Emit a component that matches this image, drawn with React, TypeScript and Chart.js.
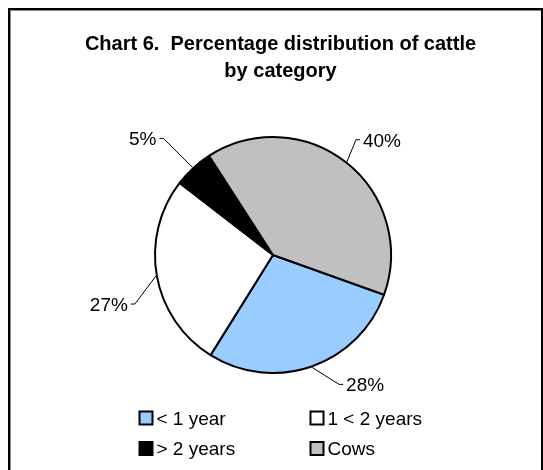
import { useEffect, useRef } from "react";
import { Chart, registerables } from "chart.js";

Chart.register(...registerables);

const categories = ["< 1 year", "1 < 2 years", "> 2 years", "Cows"];
const shares = [28.4, 26.6, 5.4, 39.6];
const percentLabels = ["28%", "27%", "5%", "40%"];
const sliceColors = ["#99CCFF", "#FFFFFF", "#000000", "#C0C0C0"];
const titleLines = ["Chart 6.  Percentage distribution of cattle", "by category"];

// leader-line direction (dx, dy) from slice edge to label elbow
const leaderOffsets = [
  [27, 17],
  [-21, 28],
  [-29, -29],
  [9, -22],
];

const FONT = "'Liberation Sans', Arial, Helvetica, sans-serif";

const labelPlugin = {
  id: "pieLabels",
  afterDatasetsDraw(chart: any) {
    const ctx = chart.ctx;
    const meta = chart.getDatasetMeta(0);
    ctx.save();
    ctx.font = `19px ${FONT}`;
    ctx.fillStyle = "#000";
    ctx.strokeStyle = "#000";
    ctx.lineWidth = 1;
    meta.data.forEach((arc: any, i: number) => {
      const { x, y, startAngle, endAngle, outerRadius } = arc.getProps(
        ["x", "y", "startAngle", "endAngle", "outerRadius"],
        true
      );
      const a = (startAngle + endAngle) / 2;
      const ax = x + Math.cos(a) * (outerRadius + 1);
      const ay = y + Math.sin(a) * (outerRadius + 1);
      const [dx, dy] = leaderOffsets[i];
      const ex = ax + dx;
      const ey = ay + dy;
      const dir = dx >= 0 ? 1 : -1;
      const tx = ex + dir * 4;
      ctx.beginPath();
      ctx.moveTo(ax, ay);
      ctx.lineTo(ex, ey);
      ctx.lineTo(tx, ey);
      ctx.stroke();
      ctx.textAlign = dir > 0 ? "left" : "right";
      ctx.textBaseline = "middle";
      ctx.fillText(percentLabels[i], tx + dir * 3, ey + 1.5);
    });
    ctx.restore();
  },
};

const titleLegendPlugin = {
  id: "titleLegend",
  afterDraw(chart: any) {
    const ctx = chart.ctx;
    ctx.save();
    // title
    ctx.font = `bold 20px ${FONT}`;
    ctx.fillStyle = "#000";
    ctx.textAlign = "center";
    ctx.textBaseline = "alphabetic";
    titleLines.forEach((t, i) => ctx.fillText(t, 280.5, 50 + i * 26.5));
    // legend: 2 columns
    ctx.font = `19px ${FONT}`;
    ctx.textAlign = "left";
    const colX = [139.5, 310.5];
    const rowBase = [424.5, 455];
    categories.forEach((c, i) => {
      const bx = colX[i % 2];
      const base = rowBase[Math.floor(i / 2)];
      const by = base - 13;
      ctx.fillStyle = sliceColors[i];
      ctx.fillRect(bx, by, 13, 13);
      ctx.strokeStyle = "#000";
      ctx.lineWidth = 2;
      ctx.strokeRect(bx, by, 13, 13);
      ctx.fillStyle = "#000";
      ctx.fillText(c, bx + 17, base);
    });
    ctx.restore();
  },
};

export default function App() {
  const ref = useRef<HTMLCanvasElement | null>(null);
  useEffect(() => {
    if (!ref.current) return;
    const chart = new Chart(ref.current, {
      type: "pie",
      data: {
        labels: categories,
        datasets: [
          {
            data: shares,
            backgroundColor: sliceColors,
            borderColor: "#000000",
            borderWidth: 2,
          },
        ],
      },
      options: {
        responsive: false,
        animation: false,
        devicePixelRatio: 1,
        rotation: 109.7,
        radius: 118,
        layout: { padding: { left: 3, right: 0, top: 40, bottom: 0 } },
        plugins: {
          legend: { display: false },
          title: { display: false },
          tooltip: { enabled: false },
        },
      } as any,
      plugins: [labelPlugin, titleLegendPlugin],
    });
    return () => chart.destroy();
  }, []);

  return (
    <>
      <div
        style={{
          position: "fixed",
          left: 8,
          top: 8,
          width: 535,
          height: 470,
          boxSizing: "border-box",
          borderTop: "2px solid #000",
          borderLeft: "2px solid #000",
          borderRight: "2px solid #000",
          boxShadow: "inset 1px 1px 0 #888",
          background: "#fff",
        }}
      />
      <canvas
        ref={ref}
        width={543}
        height={470}
        style={{ position: "fixed", left: 0, top: 0, width: 543, height: 470 }}
      />
    </>
  );
}
